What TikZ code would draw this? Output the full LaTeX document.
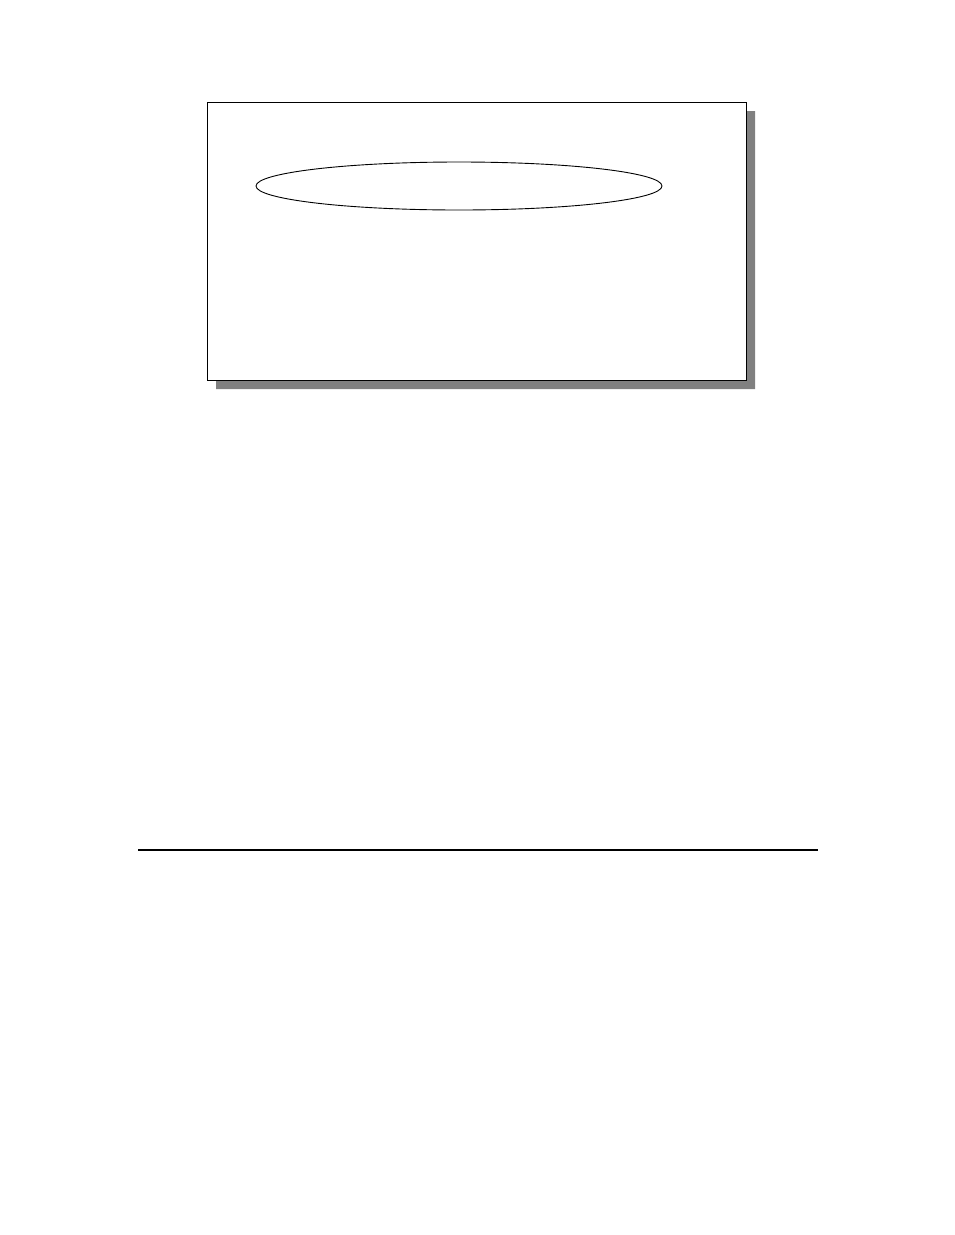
\documentclass[tikz,border=0pt]{standalone}
\usepackage{tikz}
\usetikzlibrary{shapes.geometric}

\begin{document}
\begin{tikzpicture}[x=1pt,y=-1pt]
	    \useasboundingbox (0,0) rectangle (954,1235);

	    \fill[black!50] (216,111) -- (755,111) -- (755,389) -- (216,389) -- (216,111);
	    \node[draw=black,fill=white,line width=0.9pt,minimum width=539pt,minimum height=278pt,inner sep=0pt,anchor=north west] (frame) at (207,102) {};

	    \node[draw=black,ellipse,line width=0.9pt,minimum width=406pt,minimum height=48pt,inner sep=0pt] (oval) at (459,186) {};

	    \draw[line width=1.2pt] (138,850) -- (818,850);
\end{tikzpicture}
\end{document}
